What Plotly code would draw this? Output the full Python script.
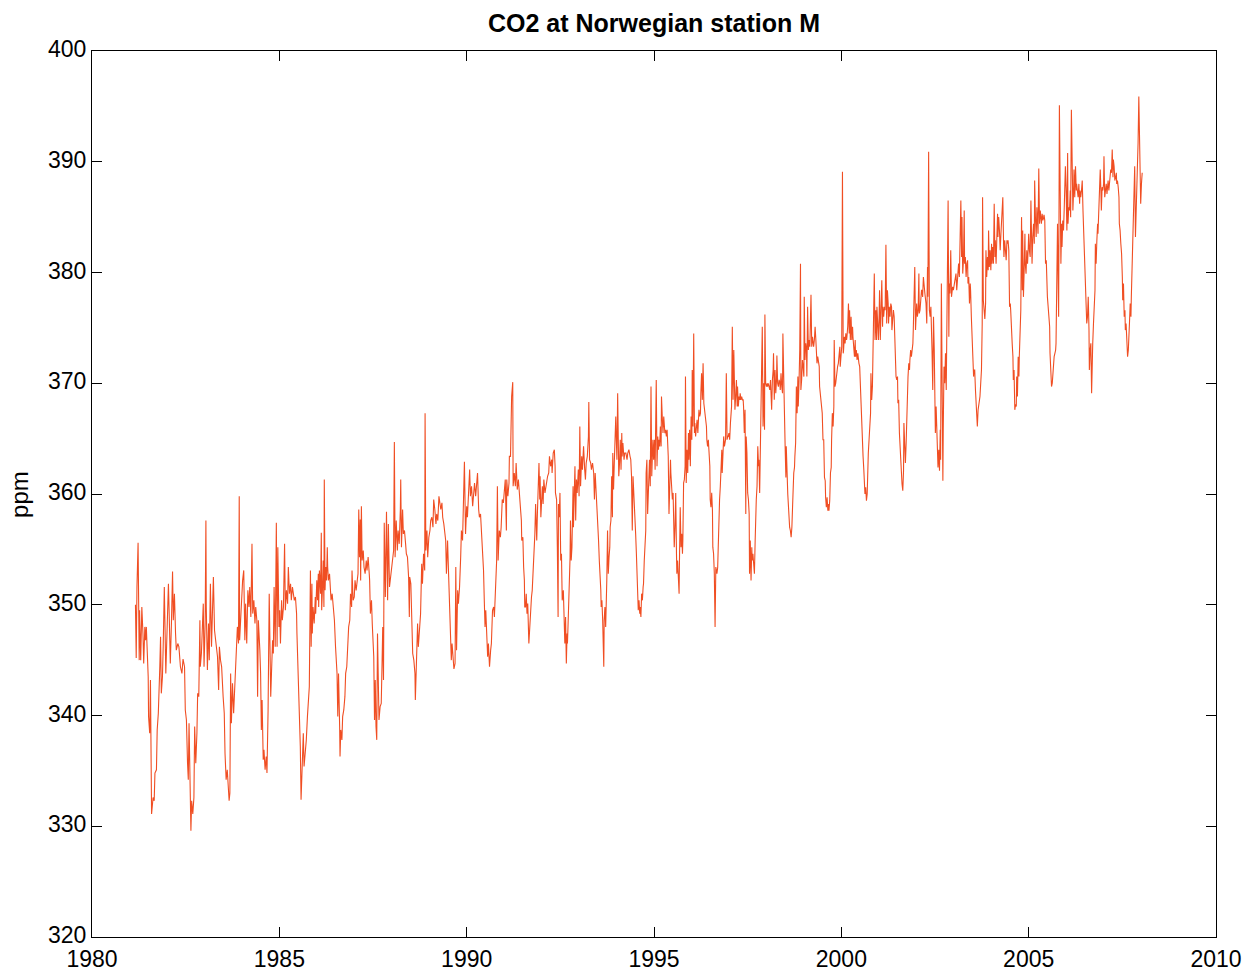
import plotly.graph_objects as go

# (decimal year, CO2 ppm)
seg_1981_1984 = [(1981.16,350.0),(1981.18,345.2),(1981.20,351.6),(1981.23,355.6),(1981.26,345.0),(1981.27,349.5),(1981.30,345.0),(1981.33,349.8),(1981.36,347.4),(1981.38,344.7),(1981.41,348.0),(1981.43,346.8),(1981.45,348.0),(1981.48,345.6),(1981.50,343.5),(1981.51,339.9),(1981.54,338.4),(1981.56,343.2),(1981.57,335.7),(1981.59,331.1),(1981.63,332.6),(1981.66,332.3),(1981.68,334.8),(1981.72,335.1),(1981.74,338.7),(1981.77,340.2),(1981.81,344.4),(1981.83,347.1),(1981.85,342.0),(1981.88,343.5),(1981.90,346.2),(1981.93,351.6),(1981.97,343.8),(1982.00,347.7),(1982.04,351.9),(1982.06,349.2),(1982.09,344.7),(1982.12,348.3),(1982.15,353.0),(1982.17,348.6),(1982.20,351.0),(1982.23,347.4),(1982.25,345.9),(1982.29,346.5),(1982.32,346.2),(1982.36,344.4),(1982.40,343.8),(1982.43,345.1),(1982.47,344.4),(1982.49,340.5),(1982.52,339.6),(1982.55,335.7),(1982.57,334.2),(1982.59,339.3),(1982.61,333.2),(1982.64,329.6),(1982.66,332.3),(1982.69,331.1),(1982.72,332.6),(1982.74,339.0),(1982.77,335.7),(1982.80,338.4),(1982.82,342.0),(1982.85,341.7),(1982.88,348.6),(1982.89,344.4),(1982.92,345.6),(1982.95,347.7),(1982.97,350.1),(1982.99,344.4),(1983.02,348.3),(1983.04,357.6),(1983.05,349.8),(1983.08,344.1),(1983.11,348.3),(1983.13,345.0),(1983.16,351.9),(1983.19,346.2),(1983.21,349.2),(1983.24,352.5),(1983.27,347.7),(1983.29,347.1),(1983.32,346.5),(1983.35,345.3),(1983.38,342.3),(1983.40,346.2),(1983.43,345.0),(1983.46,344.4),(1983.50,341.7),(1983.53,340.2),(1983.55,336.6),(1983.58,334.2),(1983.61,335.1),(1983.63,333.6),(1983.66,332.3),(1983.68,333.0),(1983.70,343.8),(1983.72,339.3),(1983.75,342.9),(1983.78,340.2),(1983.82,343.8),(1983.86,347.1),(1983.88,348.0),(1983.91,346.5),(1983.93,359.8),(1983.94,346.8),(1983.97,348.9),(1984.00,349.8),(1984.02,352.2),(1984.05,353.1),(1984.08,346.8),(1984.10,350.1),(1984.13,346.5),(1984.16,351.3),(1984.19,349.8),(1984.21,351.6),(1984.24,348.9),(1984.27,355.5),(1984.29,349.2),(1984.32,350.4),(1984.35,348.3),(1984.37,349.8),(1984.40,348.6),(1984.42,341.7),(1984.44,348.6)]

seg_1984_1987 = [(1984.48,345.9),(1984.50,343.8),(1984.52,338.7),(1984.54,341.4),(1984.57,336.0),(1984.59,336.9),(1984.62,335.1),(1984.65,336.3),(1984.67,334.8),(1984.70,340.5),(1984.73,351.0),(1984.75,344.4),(1984.77,341.7),(1984.79,343.8),(1984.82,346.8),(1984.84,345.6),(1984.86,351.6),(1984.89,346.2),(1984.91,356.8),(1984.92,357.4),(1984.94,346.2),(1984.96,355.2),(1984.99,348.0),(1985.01,349.5),(1985.03,346.5),(1985.06,350.4),(1985.08,348.6),(1985.11,349.8),(1985.14,355.5),(1985.16,349.5),(1985.19,351.3),(1985.22,350.1),(1985.24,353.4),(1985.27,351.0),(1985.30,351.9),(1985.32,350.4),(1985.35,351.6),(1985.38,351.0),(1985.40,350.4),(1985.43,350.7),(1985.46,349.2),(1985.47,347.4),(1985.49,345.3),(1985.51,343.2),(1985.53,339.6),(1985.55,339.0),(1985.56,337.2),(1985.58,332.4),(1985.61,336.3),(1985.64,338.4),(1985.66,335.4),(1985.69,336.6),(1985.72,337.8),(1985.75,339.9),(1985.78,341.7),(1985.80,342.6),(1985.83,353.1),(1985.85,346.2),(1985.87,351.9),(1985.88,347.4),(1985.90,349.8),(1985.93,348.3),(1985.96,350.7),(1985.97,349.2),(1986.00,352.2),(1986.02,350.4),(1986.04,352.8),(1986.05,349.8),(1986.07,353.1),(1986.10,351.0),(1986.12,356.5),(1986.13,349.5),(1986.15,351.3),(1986.17,354.0),(1986.19,349.8),(1986.20,361.3),(1986.22,351.3),(1986.24,353.4),(1986.26,352.2),(1986.28,355.2),(1986.29,353.4),(1986.31,352.2),(1986.34,352.8),(1986.37,351.6),(1986.38,350.4),(1986.41,351.0),(1986.43,350.1),(1986.45,349.8),(1986.47,348.6),(1986.50,346.2),(1986.52,344.4),(1986.54,343.8),(1986.56,339.9),(1986.58,343.8),(1986.61,339.0),(1986.62,336.3),(1986.64,338.7),(1986.67,337.8),(1986.69,339.9),(1986.72,340.5),(1986.75,341.7),(1986.77,343.8),(1986.80,344.4),(1986.83,346.8),(1986.85,348.0),(1986.88,348.6),(1986.90,351.0),(1986.93,349.8),(1986.94,353.1),(1986.97,350.4),(1987.00,350.7),(1987.02,352.2),(1987.05,351.3),(1987.08,352.2),(1987.10,352.8),(1987.12,358.6),(1987.14,354.3),(1987.16,357.7),(1987.17,352.2),(1987.19,358.9),(1987.21,354.0),(1987.24,354.9),(1987.26,353.4),(1987.29,352.8),(1987.32,354.0),(1987.34,353.1),(1987.37,354.3),(1987.40,352.8),(1987.41,352.2),(1987.43,349.2),(1987.46,350.4),(1987.48,348.3),(1987.50,346.2),(1987.52,345.3),(1987.54,339.6),(1987.56,343.2),(1987.58,339.0),(1987.60,337.8),(1987.62,347.4),(1987.64,340.2),(1987.66,339.6),(1987.69,340.8),(1987.72,341.1),(1987.74,344.4),(1987.76,348.0),(1987.78,343.2),(1987.80,357.4)]

seg_1987_1991 = [(1987.83,350.7),(1987.86,358.4),(1987.89,350.4),(1987.91,357.3),(1987.94,351.6),(1987.97,352.5),(1987.99,353.1),(1988.02,353.4),(1988.05,354.9),(1988.07,364.7),(1988.09,354.3),(1988.12,357.6),(1988.15,354.9),(1988.17,356.7),(1988.20,355.5),(1988.23,358.6),(1988.24,361.3),(1988.26,355.2),(1988.29,358.6),(1988.31,356.4),(1988.34,356.7),(1988.37,355.5),(1988.39,354.6),(1988.42,354.3),(1988.45,352.5),(1988.47,348.9),(1988.48,352.5),(1988.51,351.9),(1988.54,347.1),(1988.56,345.6),(1988.59,345.0),(1988.62,343.8),(1988.63,341.4),(1988.66,344.1),(1988.69,348.3),(1988.71,346.2),(1988.74,347.7),(1988.77,349.2),(1988.80,353.7),(1988.82,351.9),(1988.85,354.6),(1988.88,353.1),(1988.89,367.3),(1988.91,354.9),(1988.94,356.7),(1988.96,354.3),(1988.99,356.1),(1989.02,356.7),(1989.04,357.6),(1989.07,357.9),(1989.10,357.0),(1989.12,359.5),(1989.15,358.6),(1989.18,357.3),(1989.20,358.2),(1989.23,357.6),(1989.26,359.8),(1989.28,359.2),(1989.31,358.6),(1989.34,359.2),(1989.36,357.9),(1989.39,357.3),(1989.42,356.1),(1989.44,355.8),(1989.46,352.8),(1989.49,355.8),(1989.52,352.5),(1989.54,350.4),(1989.57,348.6),(1989.59,345.0),(1989.61,346.5),(1989.64,344.7),(1989.66,344.2),(1989.69,344.7),(1989.71,353.4),(1989.73,345.9),(1989.76,351.3),(1989.78,350.1),(1989.81,351.6),(1989.84,354.3),(1989.86,356.7),(1989.89,355.8),(1989.92,359.8),(1989.94,362.9),(1989.97,356.4),(1990.00,358.9),(1990.02,357.9),(1990.05,360.7),(1990.08,362.2),(1990.10,359.8),(1990.13,360.7),(1990.16,358.9),(1990.18,360.1),(1990.21,361.0),(1990.24,359.8),(1990.26,360.4),(1990.29,361.9),(1990.32,358.6),(1990.34,357.9),(1990.37,358.2),(1990.40,356.1),(1990.42,355.8),(1990.45,353.1),(1990.47,350.4),(1990.49,348.0),(1990.51,349.5),(1990.53,347.7),(1990.56,345.3),(1990.58,346.5),(1990.61,344.4),(1990.64,345.9),(1990.66,346.5),(1990.69,349.5),(1990.72,349.8),(1990.74,348.9),(1990.77,351.3),(1990.80,354.0),(1990.82,360.7),(1990.84,354.0),(1990.87,356.7),(1990.90,356.1),(1990.92,357.0),(1990.95,359.5),(1990.98,359.2),(1991.00,359.8),(1991.03,361.3),(1991.06,356.7),(1991.07,361.3),(1991.10,359.8),(1991.13,361.0),(1991.14,363.4)]

seg_1991_1994 = [(1991.17,363.4),(1991.20,368.8),(1991.23,370.1),(1991.24,360.7),(1991.27,361.9),(1991.30,360.7),(1991.32,362.8),(1991.35,360.4),(1991.38,361.3),(1991.40,360.4),(1991.43,359.1),(1991.46,357.6),(1991.47,355.8),(1991.50,356.1),(1991.52,353.4),(1991.54,352.2),(1991.55,349.8),(1991.57,349.8),(1991.59,351.0),(1991.61,349.2),(1991.63,350.1),(1991.64,348.0),(1991.66,346.5),(1991.68,347.7),(1991.70,349.2),(1991.71,348.6),(1991.73,350.7),(1991.75,351.3),(1991.77,352.5),(1991.79,354.3),(1991.80,354.0),(1991.82,356.4),(1991.84,359.1),(1991.86,356.7),(1991.87,355.8),(1991.89,358.5),(1991.91,361.0),(1991.93,362.8),(1991.95,359.5),(1991.96,361.6),(1991.98,357.9),(1992.00,360.1),(1992.02,360.7),(1992.04,359.1),(1992.06,361.3),(1992.09,360.1),(1992.11,360.7),(1992.13,361.0),(1992.16,361.6),(1992.19,361.9),(1992.21,363.4),(1992.24,362.5),(1992.27,363.1),(1992.28,361.9),(1992.31,363.7),(1992.34,364.0),(1992.36,362.5),(1992.37,360.1),(1992.40,359.5),(1992.42,355.2),(1992.44,348.9),(1992.45,359.1),(1992.47,357.9),(1992.49,360.1),(1992.51,354.0),(1992.53,354.6),(1992.55,350.4),(1992.58,351.3),(1992.60,348.0),(1992.62,346.5),(1992.64,348.9),(1992.66,344.7),(1992.68,347.4),(1992.69,346.5),(1992.71,348.6),(1992.74,351.3),(1992.76,354.3),(1992.77,357.6),(1992.79,354.0),(1992.81,355.2),(1992.84,360.7),(1992.85,357.0),(1992.87,359.5),(1992.89,362.5),(1992.91,357.6),(1992.93,361.3),(1992.95,360.1),(1992.98,362.2),(1993.00,359.8),(1993.02,366.1),(1993.04,360.7),(1993.07,363.4),(1993.09,362.2),(1993.12,364.3),(1993.15,362.2),(1993.17,361.3),(1993.19,362.8),(1993.22,363.4),(1993.25,365.2),(1993.26,368.3),(1993.28,363.1),(1993.31,362.8),(1993.33,362.2),(1993.36,362.8),(1993.39,361.9),(1993.41,359.5),(1993.43,361.9),(1993.46,360.1),(1993.49,358.5),(1993.50,357.6),(1993.52,355.8),(1993.54,354.0),(1993.56,352.8),(1993.58,351.3),(1993.59,349.8),(1993.61,350.4),(1993.63,348.6),(1993.65,346.5),(1993.66,344.4),(1993.67,348.6),(1993.69,349.8),(1993.71,348.0),(1993.73,349.8),(1993.74,352.2),(1993.76,356.7),(1993.78,352.8),(1993.80,354.3),(1993.82,355.2),(1993.83,357.0),(1993.85,357.6),(1993.87,361.6),(1993.89,357.9),(1993.90,363.7),(1993.92,360.4),(1993.94,362.8),(1993.96,366.1),(1993.98,367.0),(1993.99,365.5),(1994.01,363.1),(1994.03,369.1),(1994.05,363.1),(1994.06,361.6),(1994.08,362.8),(1994.10,364.9),(1994.12,362.2),(1994.14,365.5),(1994.15,363.4),(1994.17,364.6),(1994.20,363.1),(1994.22,363.7),(1994.25,363.7),(1994.28,363.1),(1994.30,363.7),(1994.33,364.0),(1994.36,363.4),(1994.38,363.1),(1994.40,361.6),(1994.42,356.7),(1994.44,361.6),(1994.46,360.1),(1994.47,360.7)]

seg_1994_1997 = [(1994.49,359.2),(1994.51,356.4),(1994.53,354.6),(1994.55,352.8),(1994.56,351.9),(1994.58,349.5),(1994.60,350.4),(1994.62,349.2),(1994.63,349.8),(1994.65,348.9),(1994.67,351.0),(1994.69,350.4),(1994.71,351.6),(1994.72,351.9),(1994.74,354.0),(1994.76,355.8),(1994.78,356.7),(1994.79,361.9),(1994.81,363.1),(1994.83,358.2),(1994.85,361.3),(1994.87,361.9),(1994.88,363.1),(1994.90,360.7),(1994.92,369.7),(1994.94,361.6),(1994.95,362.5),(1994.97,364.9),(1994.99,363.1),(1995.01,364.9),(1995.03,362.2),(1995.04,364.3),(1995.06,370.3),(1995.08,362.5),(1995.10,365.2),(1995.12,364.0),(1995.13,364.9),(1995.15,364.3),(1995.17,366.1),(1995.19,364.3),(1995.20,368.8),(1995.22,367.0),(1995.24,365.5),(1995.26,367.0),(1995.28,366.4),(1995.29,365.5),(1995.31,365.8),(1995.33,365.2),(1995.35,365.8),(1995.36,364.6),(1995.38,363.4),(1995.40,358.2),(1995.42,361.9),(1995.44,363.1),(1995.45,361.9),(1995.47,360.7),(1995.49,359.5),(1995.51,360.1),(1995.52,358.5),(1995.54,355.2),(1995.56,357.0),(1995.58,360.1),(1995.60,354.6),(1995.61,352.8),(1995.63,354.0),(1995.65,351.3),(1995.67,351.0),(1995.68,354.0),(1995.70,358.8),(1995.72,355.2),(1995.74,356.4),(1995.76,354.6),(1995.77,355.8),(1995.79,361.0),(1995.81,361.3),(1995.83,362.5),(1995.84,370.6),(1995.86,361.0),(1995.88,364.0),(1995.90,361.9),(1995.92,365.5),(1995.93,363.1),(1995.95,365.8),(1995.97,362.5),(1995.99,367.0),(1996.01,364.9),(1996.02,371.2),(1996.04,366.1),(1996.06,374.5),(1996.08,365.5),(1996.09,366.4),(1996.11,365.2),(1996.13,366.1),(1996.15,366.7),(1996.17,365.5),(1996.18,366.1),(1996.20,367.6),(1996.22,367.0),(1996.24,367.3),(1996.25,369.1),(1996.27,370.9),(1996.29,368.5),(1996.31,371.8),(1996.33,368.2),(1996.34,367.9),(1996.36,367.3),(1996.38,366.4),(1996.40,366.1),(1996.41,364.9),(1996.43,364.3),(1996.45,364.9),(1996.47,363.7),(1996.49,362.5),(1996.50,359.5),(1996.52,358.8),(1996.54,360.1),(1996.56,358.5),(1996.57,355.2),(1996.59,354.6),(1996.61,352.8),(1996.63,348.0),(1996.65,353.4),(1996.66,353.1),(1996.68,352.8),(1996.70,353.4),(1996.72,356.4),(1996.73,357.9),(1996.75,359.5),(1996.77,360.7),(1996.79,362.5),(1996.81,364.0),(1996.82,361.9),(1996.84,364.9),(1996.86,365.2),(1996.88,364.3),(1996.90,364.6),(1996.91,364.9),(1996.93,370.9),(1996.95,364.9),(1996.97,365.2),(1996.98,365.2),(1997.00,365.5),(1997.02,364.9),(1997.04,366.4),(1997.06,367.0),(1997.07,367.9),(1997.09,375.1),(1997.11,368.5),(1997.13,373.0),(1997.14,368.5),(1997.16,367.6),(1997.18,368.8),(1997.20,370.3),(1997.22,367.9),(1997.23,369.7),(1997.25,367.9),(1997.27,368.8),(1997.29,368.5),(1997.30,369.1),(1997.32,368.5),(1997.34,368.8),(1997.36,368.5),(1997.38,368.5),(1997.39,367.9),(1997.41,365.5),(1997.43,367.6),(1997.45,358.2),(1997.46,365.2),(1997.48,363.7),(1997.50,360.1),(1997.52,359.5),(1997.54,358.2),(1997.55,352.8),(1997.57,355.8),(1997.59,352.2),(1997.61,355.2),(1997.62,354.0),(1997.64,354.6),(1997.66,353.4),(1997.68,352.8),(1997.70,355.8),(1997.71,357.9),(1997.73,359.5),(1997.75,360.7),(1997.77,364.3),(1997.79,362.5),(1997.80,363.1),(1997.82,360.1)]

seg_1997_2001 = [(1997.84,364.3),(1997.86,367.0),(1997.87,369.4),(1997.89,375.1),(1997.91,366.1),(1997.93,370.0),(1997.95,365.8),(1997.96,376.2),(1997.98,370.0),(1998.00,369.7),(1998.02,370.0),(1998.03,369.7),(1998.05,370.0),(1998.07,369.7),(1998.09,369.4),(1998.11,370.3),(1998.12,369.1),(1998.14,367.6),(1998.16,370.3),(1998.18,371.2),(1998.19,372.7),(1998.21,368.5),(1998.23,371.2),(1998.25,369.1),(1998.27,370.3),(1998.28,372.5),(1998.30,370.0),(1998.32,369.7),(1998.34,370.3),(1998.36,370.0),(1998.37,369.4),(1998.39,370.9),(1998.41,369.7),(1998.43,369.1),(1998.44,374.5),(1998.46,369.4),(1998.48,367.6),(1998.50,364.3),(1998.52,361.5),(1998.53,364.3),(1998.55,361.2),(1998.57,360.0),(1998.59,358.8),(1998.60,357.9),(1998.62,357.0),(1998.64,356.7),(1998.66,356.1),(1998.68,357.0),(1998.69,358.8),(1998.71,360.0),(1998.73,361.9),(1998.75,362.4),(1998.76,363.4),(1998.78,364.6),(1998.80,369.7),(1998.82,367.3),(1998.84,370.6),(1998.85,367.9),(1998.87,370.0),(1998.89,373.0),(1998.91,380.8),(1998.92,369.4),(1998.94,370.3),(1998.96,372.1),(1998.98,371.5),(1999.00,370.6),(1999.01,377.8),(1999.03,372.1),(1999.05,373.6),(1999.07,373.0),(1999.08,370.6),(1999.10,376.9),(1999.12,373.0),(1999.14,373.9),(1999.16,373.3),(1999.17,375.1),(1999.19,378.0),(1999.21,373.3),(1999.23,374.2),(1999.25,373.6),(1999.26,373.3),(1999.28,373.9),(1999.30,375.1),(1999.32,373.9),(1999.33,373.3),(1999.35,371.8),(1999.37,372.4),(1999.39,371.5),(1999.41,371.5),(1999.42,369.7),(1999.44,369.1),(1999.46,367.9),(1999.48,367.3),(1999.49,367.3),(1999.51,364.9),(1999.53,364.9),(1999.55,361.5),(1999.57,361.2),(1999.58,359.7),(1999.60,358.8),(1999.62,359.7),(1999.64,358.5),(1999.65,359.1),(1999.67,358.5),(1999.69,359.4),(1999.71,361.9),(1999.73,362.4),(1999.74,364.9),(1999.76,367.3),(1999.78,366.1),(1999.80,367.9),(1999.81,373.9),(1999.83,369.7),(1999.85,370.0),(1999.87,370.9),(1999.89,371.5),(1999.90,371.5),(1999.92,371.8),(1999.94,372.7),(1999.96,373.3),(1999.97,371.5),(1999.99,373.0),(2000.01,373.3),(2000.03,389.1),(2000.05,372.7),(2000.06,373.0),(2000.08,374.2),(2000.10,373.6),(2000.12,374.5),(2000.14,373.9),(2000.15,374.2),(2000.17,375.1),(2000.19,377.2),(2000.21,374.5),(2000.22,376.6),(2000.24,373.9),(2000.26,376.0),(2000.28,373.9),(2000.30,375.1),(2000.31,374.2),(2000.33,372.7),(2000.35,372.4),(2000.37,373.9),(2000.38,372.4),(2000.40,373.0),(2000.42,372.1),(2000.44,372.7),(2000.46,371.8),(2000.47,371.8),(2000.49,371.5),(2000.51,369.4),(2000.53,368.5),(2000.54,366.1),(2000.56,364.6),(2000.58,363.4),(2000.60,362.2),(2000.62,361.2),(2000.63,360.0),(2000.65,360.6),(2000.67,359.4),(2000.69,360.0),(2000.70,361.9),(2000.72,363.7),(2000.74,364.9),(2000.76,366.1),(2000.78,367.3),(2000.79,370.9),(2000.81,368.5),(2000.83,369.7),(2000.85,372.7),(2000.86,376.6),(2000.88,379.9),(2000.90,373.9),(2000.92,376.6),(2000.94,373.9),(2000.95,376.9),(2000.97,375.4),(2000.99,373.9),(2001.01,376.3),(2001.02,378.4),(2001.04,373.9),(2001.06,375.7),(2001.08,379.3),(2001.10,375.1),(2001.11,376.9),(2001.13,376.0),(2001.15,376.9)]

seg_2001_2004 = [(2001.17,376.6),(2001.19,382.5),(2001.21,375.4),(2001.23,378.4),(2001.25,377.2),(2001.26,375.4),(2001.28,376.9),(2001.30,376.0),(2001.32,377.2),(2001.34,376.9),(2001.35,374.8),(2001.37,376.3),(2001.39,376.6),(2001.41,376.0),(2001.43,373.3),(2001.44,374.2),(2001.46,370.6),(2001.48,370.3),(2001.50,370.6),(2001.51,368.2),(2001.53,368.5),(2001.55,365.5),(2001.57,364.0),(2001.59,363.7),(2001.60,361.5),(2001.62,360.9),(2001.64,360.3),(2001.66,362.1),(2001.67,366.4),(2001.69,364.0),(2001.71,362.8),(2001.73,364.6),(2001.75,368.2),(2001.76,370.0),(2001.78,370.6),(2001.80,371.8),(2001.82,371.2),(2001.83,372.1),(2001.85,373.0),(2001.87,372.4),(2001.89,373.0),(2001.91,373.6),(2001.92,374.8),(2001.94,379.3),(2001.96,380.5),(2001.98,374.8),(2001.99,376.0),(2002.01,377.2),(2002.03,376.0),(2002.05,376.6),(2002.07,379.9),(2002.08,376.3),(2002.10,376.6),(2002.12,377.8),(2002.14,378.4),(2002.15,378.4),(2002.17,377.8),(2002.19,379.6),(2002.21,378.4),(2002.23,378.1),(2002.24,377.8),(2002.26,377.2),(2002.28,375.4),(2002.30,380.5),(2002.31,377.8),(2002.33,390.9),(2002.35,376.6),(2002.37,376.0),(2002.39,376.9),(2002.40,373.3),(2002.42,373.0),(2002.44,369.4),(2002.46,376.0),(2002.48,373.0),(2002.49,370.0),(2002.51,365.5),(2002.53,367.9),(2002.55,364.6),(2002.56,365.2),(2002.58,362.4),(2002.60,364.0),(2002.62,362.1),(2002.64,365.8),(2002.65,363.1),(2002.67,379.0),(2002.69,367.0),(2002.71,361.2),(2002.72,365.8),(2002.74,371.5),(2002.76,370.0),(2002.78,372.7),(2002.80,369.4),(2002.81,373.0),(2002.83,376.3),(2002.85,386.5),(2002.87,374.2),(2002.88,379.0),(2002.90,378.1),(2002.92,382.0),(2002.94,377.8),(2002.96,378.4),(2002.97,378.7),(2002.99,378.4),(2003.01,379.0),(2003.03,379.6),(2003.04,379.3),(2003.06,379.9),(2003.08,378.4),(2003.10,379.6),(2003.12,379.9),(2003.13,380.8),(2003.15,379.6),(2003.17,382.6),(2003.19,386.5),(2003.21,381.4),(2003.22,385.0),(2003.24,379.9),(2003.26,381.1),(2003.28,385.6),(2003.29,380.8),(2003.31,381.4),(2003.33,379.6),(2003.35,380.8),(2003.37,381.1),(2003.38,379.0),(2003.40,379.6),(2003.42,377.2),(2003.44,379.0),(2003.45,378.4),(2003.47,376.0),(2003.49,373.3),(2003.51,371.8),(2003.53,370.6),(2003.54,371.2),(2003.56,371.2),(2003.58,369.4),(2003.60,368.2),(2003.61,367.0),(2003.63,366.1),(2003.65,367.6),(2003.67,368.2),(2003.69,368.2),(2003.70,368.8),(2003.72,370.0),(2003.74,371.2),(2003.76,375.4),(2003.77,386.8),(2003.79,377.5),(2003.81,376.6),(2003.83,375.8),(2003.85,377.2),(2003.86,382.0),(2003.88,379.6),(2003.90,381.4),(2003.92,380.2),(2003.93,383.8),(2003.95,380.5),(2003.97,382.0),(2003.99,380.2),(2004.01,382.6),(2004.02,380.8),(2004.04,382.3),(2004.06,380.8),(2004.08,386.2),(2004.10,381.4),(2004.11,382.9),(2004.13,380.8),(2004.15,382.9),(2004.17,385.3),(2004.18,383.2),(2004.20,385.0),(2004.22,383.8),(2004.24,382.0),(2004.26,383.5),(2004.27,384.1),(2004.29,384.7),(2004.31,386.8),(2004.33,382.6),(2004.34,381.4),(2004.36,382.9),(2004.38,381.4),(2004.40,381.1),(2004.42,382.9),(2004.43,382.6),(2004.45,382.9),(2004.47,382.0),(2004.49,376.9)]

seg_2004_2008 = [(2004.51,377.2),(2004.52,376.6),(2004.54,374.2),(2004.56,373.6),(2004.58,372.4),(2004.59,370.3),(2004.61,371.2),(2004.63,367.6),(2004.65,368.1),(2004.67,367.9),(2004.68,370.6),(2004.70,368.8),(2004.72,372.4),(2004.74,370.6),(2004.75,372.4),(2004.77,374.2),(2004.79,376.6),(2004.81,385.0),(2004.83,378.4),(2004.84,383.8),(2004.86,377.8),(2004.88,380.2),(2004.90,383.5),(2004.91,380.8),(2004.93,379.9),(2004.95,382.0),(2004.97,380.8),(2004.99,382.3),(2005.00,383.5),(2005.02,382.0),(2005.04,381.4),(2005.06,386.5),(2005.07,382.0),(2005.09,380.8),(2005.11,383.2),(2005.13,384.4),(2005.15,382.6),(2005.16,388.3),(2005.18,385.0),(2005.20,383.2),(2005.22,385.9),(2005.23,385.0),(2005.25,383.5),(2005.27,389.4),(2005.29,384.4),(2005.31,385.6),(2005.32,385.0),(2005.34,384.4),(2005.36,385.3),(2005.38,384.7),(2005.40,385.0),(2005.41,385.2),(2005.43,384.7),(2005.45,380.8),(2005.47,381.1),(2005.48,379.6),(2005.50,377.8),(2005.52,376.9),(2005.54,375.4),(2005.56,375.1),(2005.57,372.7),(2005.59,370.3),(2005.61,369.7),(2005.63,370.0),(2005.64,370.6),(2005.66,371.2),(2005.68,372.4),(2005.70,372.7),(2005.72,373.0),(2005.73,373.6),(2005.75,377.2),(2005.77,384.4),(2005.79,378.4),(2005.80,376.0),(2005.82,395.1),(2005.84,381.4),(2005.86,380.8),(2005.88,384.4),(2005.89,382.3),(2005.91,384.7),(2005.93,383.8),(2005.95,385.9),(2005.96,388.0),(2005.98,389.6),(2006.00,387.4),(2006.02,383.8),(2006.04,390.8),(2006.05,384.4),(2006.07,385.9),(2006.09,385.6),(2006.11,387.4),(2006.12,385.0),(2006.14,394.7),(2006.16,386.5),(2006.18,385.6),(2006.20,387.4),(2006.21,389.3),(2006.23,386.8),(2006.25,389.6),(2006.27,387.4),(2006.28,388.0),(2006.30,387.4),(2006.32,386.8),(2006.34,388.0),(2006.36,386.2),(2006.37,387.4),(2006.39,386.8),(2006.41,387.4),(2006.43,388.3),(2006.45,385.6),(2006.46,384.7),(2006.48,382.6),(2006.50,380.5),(2006.52,379.0),(2006.53,377.2),(2006.55,375.4),(2006.57,376.0),(2006.59,377.8),(2006.61,374.8),(2006.62,371.2),(2006.64,373.0),(2006.66,373.6),(2006.68,369.1),(2006.69,371.8),(2006.71,373.6),(2006.73,375.4),(2006.75,377.8),(2006.77,378.4),(2006.78,382.6),(2006.80,380.8),(2006.82,382.9),(2006.84,384.4),(2006.85,383.5),(2006.87,385.0),(2006.89,387.1),(2006.91,389.3),(2006.93,387.1),(2006.94,385.6),(2006.96,387.7),(2006.98,387.4),(2007.00,388.0),(2007.01,390.5),(2007.03,386.8),(2007.05,387.4),(2007.07,388.0),(2007.09,387.1),(2007.10,387.7),(2007.12,388.3),(2007.14,387.4),(2007.16,388.0),(2007.17,388.6),(2007.19,389.3),(2007.21,389.0),(2007.23,391.1),(2007.25,388.6),(2007.26,390.2),(2007.28,389.6),(2007.30,388.3),(2007.32,388.6),(2007.34,389.0),(2007.35,388.0),(2007.37,388.3),(2007.39,387.7),(2007.41,386.8),(2007.42,384.4),(2007.44,383.8),(2007.46,382.6),(2007.48,381.7),(2007.50,379.6),(2007.51,377.5),(2007.53,379.0),(2007.55,376.0),(2007.57,376.6),(2007.58,374.8),(2007.60,375.4),(2007.62,373.6),(2007.64,372.4),(2007.66,373.0),(2007.67,374.8),(2007.69,375.4),(2007.71,377.2),(2007.73,376.0),(2007.74,377.8),(2007.76,380.2),(2007.78,381.4),(2007.80,383.8),(2007.82,386.2),(2007.83,389.6),(2007.85,383.2),(2007.87,385.0),(2007.89,388.0),(2007.90,389.3),(2007.92,391.7),(2007.94,395.9),(2007.96,392.0),(2007.98,387.4),(2007.99,386.2),(2008.01,388.0),(2008.03,389.0)]

segments = [seg_1981_1984, seg_1984_1987, seg_1987_1991, seg_1991_1994,
            seg_1994_1997, seg_1997_2001, seg_2001_2004, seg_2004_2008]
years = [t for seg in segments for t, _ in seg]
ppm = [v for seg in segments for _, v in seg]

x_ticks = [1980, 1985, 1990, 1995, 2000, 2005, 2010]
y_ticks = [320, 330, 340, 350, 360, 370, 380, 390, 400]

FONT = "Liberation Sans, Arial, Helvetica, sans-serif"

fig = go.Figure(go.Scatter(x=years, y=ppm, mode="lines",
                           line=dict(color="#F04E23", width=1.1),
                           showlegend=False, hoverinfo="skip"))

axis_common = dict(showline=True, linecolor="black", linewidth=1, mirror="ticks",
                   ticks="inside", ticklen=10, tickwidth=1, tickcolor="black",
                   showgrid=False, zeroline=False, automargin=False,
                   tickfont=dict(family=FONT, size=23, color="black"))

fig.update_xaxes(range=[1980, 2010], tickvals=x_ticks,
                 ticktext=[str(v) for v in x_ticks], ticklabelstandoff=1, **axis_common)
fig.update_yaxes(range=[320, 400], tickvals=y_ticks,
                 ticktext=[str(v) for v in y_ticks], ticklabelshift=-2, **axis_common)

fig.update_layout(
    width=1257, height=971,
    margin=dict(l=92, r=41, t=51, b=34),
    paper_bgcolor="white", plot_bgcolor="white",
    font=dict(family=FONT, color="black"),
    title=dict(text="<b>CO2 at Norwegian station M</b>", x=0.5, xref="paper",
               xanchor="center", y=1 - 23 / 971, yref="container", yanchor="middle",
               font=dict(family=FONT, size=25, color="black")),
    annotations=[dict(text="ppm", textangle=-90, xref="paper", yref="paper",
                      x=-0.065, y=0.5, xanchor="center", yanchor="middle",
                      showarrow=False, font=dict(family=FONT, size=24, color="black"))],
)

fig.write_html("out.html")
